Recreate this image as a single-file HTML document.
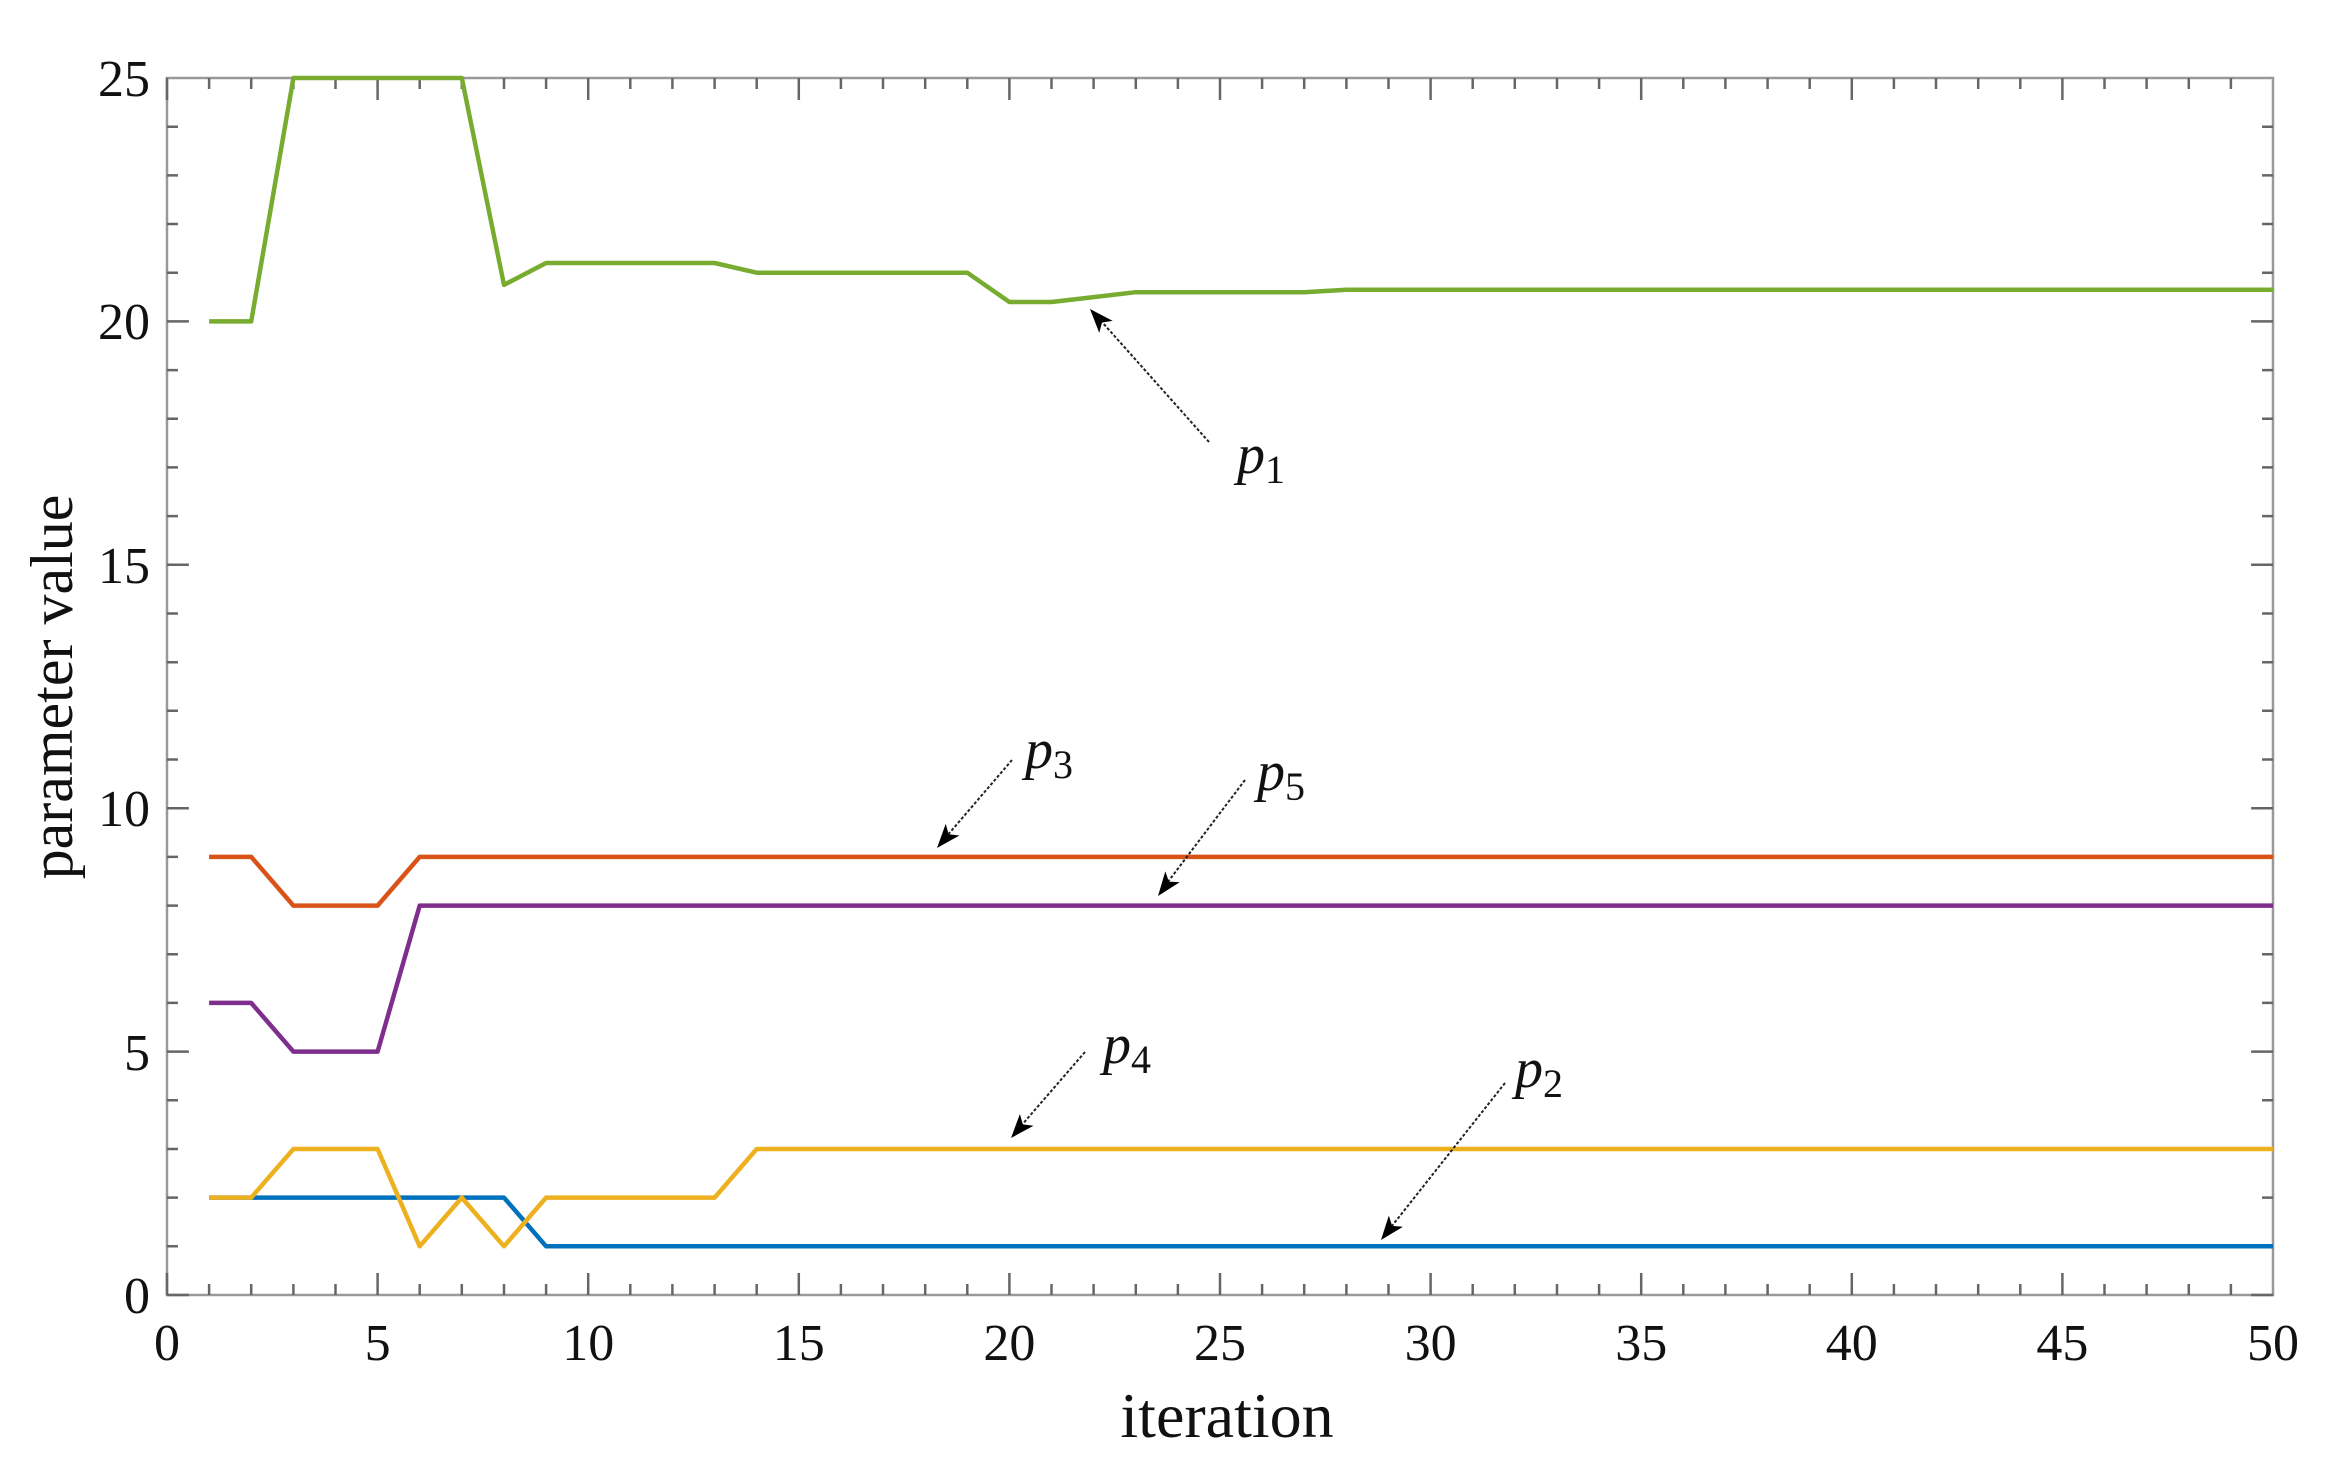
<!DOCTYPE html>
<html><head><meta charset="utf-8"><style>body{margin:0;background:#fff}svg{display:block}</style></head>
<body>
<svg width="2329" height="1476" viewBox="0 0 2329 1476" xmlns="http://www.w3.org/2000/svg" font-family="'Liberation Serif', serif">
<g transform="translate(167,0) scale(0.99527,1) translate(-167,0)">
<rect x="167" y="78" width="2116" height="1217" fill="none" stroke="#999" stroke-width="2.5"/>
<path stroke="#666" stroke-width="2.5" fill="none" d="
M167 1295v-22M167 78v22
M209.3 1295v-11M209.3 78v11M251.6 1295v-11M251.6 78v11M294 1295v-11M294 78v11M336.3 1295v-11M336.3 78v11
M378.6 1295v-22M378.6 78v22
M420.9 1295v-11M420.9 78v11M463.2 1295v-11M463.2 78v11M505.6 1295v-11M505.6 78v11M547.9 1295v-11M547.9 78v11
M590.2 1295v-22M590.2 78v22
M632.5 1295v-11M632.5 78v11M674.8 1295v-11M674.8 78v11M717.2 1295v-11M717.2 78v11M759.5 1295v-11M759.5 78v11
M801.8 1295v-22M801.8 78v22
M844.1 1295v-11M844.1 78v11M886.4 1295v-11M886.4 78v11M928.8 1295v-11M928.8 78v11M971.1 1295v-11M971.1 78v11
M1013.4 1295v-22M1013.4 78v22
M1055.7 1295v-11M1055.7 78v11M1098 1295v-11M1098 78v11M1140.4 1295v-11M1140.4 78v11M1182.7 1295v-11M1182.7 78v11
M1225 1295v-22M1225 78v22
M1267.3 1295v-11M1267.3 78v11M1309.6 1295v-11M1309.6 78v11M1352 1295v-11M1352 78v11M1394.3 1295v-11M1394.3 78v11
M1436.6 1295v-22M1436.6 78v22
M1478.9 1295v-11M1478.9 78v11M1521.2 1295v-11M1521.2 78v11M1563.6 1295v-11M1563.6 78v11M1605.9 1295v-11M1605.9 78v11
M1648.2 1295v-22M1648.2 78v22
M1690.5 1295v-11M1690.5 78v11M1732.8 1295v-11M1732.8 78v11M1775.2 1295v-11M1775.2 78v11M1817.5 1295v-11M1817.5 78v11
M1859.8 1295v-22M1859.8 78v22
M1902.1 1295v-11M1902.1 78v11M1944.4 1295v-11M1944.4 78v11M1986.8 1295v-11M1986.8 78v11M2029.1 1295v-11M2029.1 78v11
M2071.4 1295v-22M2071.4 78v22
M2113.7 1295v-11M2113.7 78v11M2156 1295v-11M2156 78v11M2198.4 1295v-11M2198.4 78v11M2240.7 1295v-11M2240.7 78v11
M167 1295h22M2283 1295h-22
M167 1246.3h11M2283 1246.3h-11M167 1197.6h11M2283 1197.6h-11M167 1149h11M2283 1149h-11M167 1100.3h11M2283 1100.3h-11
M167 1051.6h22M2283 1051.6h-22
M167 1002.9h11M2283 1002.9h-11M167 954.2h11M2283 954.2h-11M167 905.6h11M2283 905.6h-11M167 856.9h11M2283 856.9h-11
M167 808.2h22M2283 808.2h-22
M167 759.5h11M2283 759.5h-11M167 710.8h11M2283 710.8h-11M167 662.2h11M2283 662.2h-11M167 613.5h11M2283 613.5h-11
M167 564.8h22M2283 564.8h-22
M167 516.1h11M2283 516.1h-11M167 467.4h11M2283 467.4h-11M167 418.8h11M2283 418.8h-11M167 370.1h11M2283 370.1h-11
M167 321.4h22M2283 321.4h-22
M167 272.7h11M2283 272.7h-11M167 224h11M2283 224h-11M167 175.4h11M2283 175.4h-11M167 126.7h11M2283 126.7h-11
"/>
<g fill="none" stroke-width="4.5" stroke-linejoin="round">
<polyline stroke="#77AC30" points="209.3,321.4 251.6,321.4 294,78 463.2,78 505.6,284.9 547.9,263 717.2,263 759.5,272.7 971.1,272.7 1013.4,302 1055.7,302 1098,297.1 1140.4,292.2 1309.6,292.2 1352,289.8 2283,289.8"/>
<polyline stroke="#D95319" points="209.3,856.9 251.6,856.9 294,905.6 378.6,905.6 420.9,856.9 2283,856.9"/>
<polyline stroke="#7E2F8E" points="209.3,1002.9 251.6,1002.9 294,1051.6 378.6,1051.6 420.9,905.6 2283,905.6"/>
<polyline stroke="#0072BD" points="209.3,1197.6 505.6,1197.6 547.9,1246.3 2283,1246.3"/>
<polyline stroke="#EDB120" points="209.3,1197.6 251.6,1197.6 294,1149 378.6,1149 420.9,1246.3 463.2,1197.6 505.6,1246.3 547.9,1197.6 717.2,1197.6 759.5,1149 2283,1149"/>
</g>
</g>
<g font-size="52" fill="#111" text-anchor="middle">
<text x="167" y="1360">0</text><text x="377.6" y="1360">5</text><text x="588.2" y="1360">10</text><text x="798.8" y="1360">15</text><text x="1009.4" y="1360">20</text><text x="1220" y="1360">25</text><text x="1430.6" y="1360">30</text><text x="1641.2" y="1360">35</text><text x="1851.8" y="1360">40</text><text x="2062.4" y="1360">45</text><text x="2273" y="1360">50</text>
</g>
<g font-size="52" fill="#111" text-anchor="end">
<text x="150" y="1313">0</text><text x="150" y="1070">5</text><text x="150" y="826">10</text><text x="150" y="583">15</text><text x="150" y="339">20</text><text x="150" y="96">25</text>
</g>
<text x="0" y="0" font-size="60" fill="#111" text-anchor="middle" transform="translate(72,687) rotate(-90)">parameter value</text>
<text x="1227" y="1437" font-size="64" fill="#111" text-anchor="middle">iteration</text>
<g stroke="#222" stroke-width="2" stroke-dasharray="3,2" fill="none">
<line x1="1209" y1="442" x2="1094" y2="313"/>
<line x1="1012" y1="760" x2="940" y2="844"/>
<line x1="1245" y1="780" x2="1161" y2="891"/>
<line x1="1085" y1="1052" x2="1014" y2="1134"/>
<line x1="1505" y1="1083" x2="1384" y2="1236"/>
</g>
<g fill="#000">
<polygon points="0,0 -24,-9 -18,0 -24,9" transform="translate(1090,309) rotate(228.3)"/>
<polygon points="0,0 -24,-9 -18,0 -24,9" transform="translate(937,848) rotate(130.4)"/>
<polygon points="0,0 -24,-9 -18,0 -24,9" transform="translate(1158,896) rotate(127.1)"/>
<polygon points="0,0 -24,-9 -18,0 -24,9" transform="translate(1011,1138) rotate(130.9)"/>
<polygon points="0,0 -24,-9 -18,0 -24,9" transform="translate(1381,1240) rotate(128.3)"/>
</g>
<g font-size="56" font-style="italic" fill="#111">
<text x="1237" y="473">p<tspan font-size="40" font-style="normal" dy="10">1</tspan></text>
<text x="1025" y="768">p<tspan font-size="40" font-style="normal" dy="10">3</tspan></text>
<text x="1257" y="790">p<tspan font-size="40" font-style="normal" dy="10">5</tspan></text>
<text x="1103" y="1063">p<tspan font-size="40" font-style="normal" dy="10">4</tspan></text>
<text x="1515" y="1087">p<tspan font-size="40" font-style="normal" dy="10">2</tspan></text>
</g>
</svg>
</body></html>
